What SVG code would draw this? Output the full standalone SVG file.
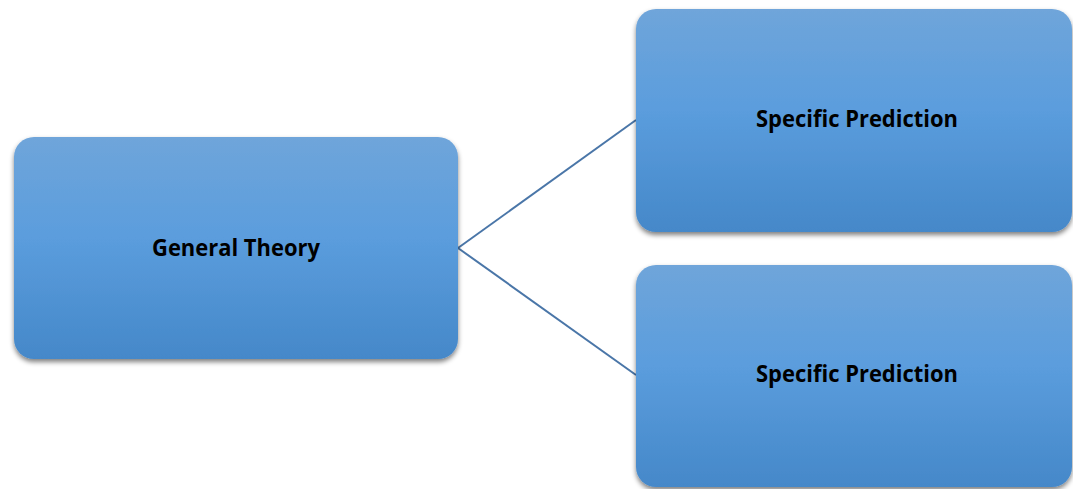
<svg xmlns="http://www.w3.org/2000/svg" width="1073" height="489" viewBox="0 0 1073 489">
<style>
.box{fill:url(#g);filter:url(#sh)}
.lbl{font-family:"Open Sans","Liberation Sans",sans-serif;font-weight:bold;font-size:22.5px;fill:#000;text-anchor:middle}
.con{stroke:#4a76a8;stroke-width:2;fill:none}
</style>
<defs>
<linearGradient id="g" x1="0" y1="0" x2="0" y2="1">
<stop offset="0" stop-color="#6fa5da"/>
<stop offset="0.45" stop-color="#5b9ddd"/>
<stop offset="1" stop-color="#4588c9"/>
</linearGradient>
<filter id="sh" x="-10%" y="-10%" width="120%" height="125%">
<feGaussianBlur in="SourceAlpha" stdDeviation="2.5"/>
<feOffset dx="0" dy="3" result="b"/>
<feComponentTransfer><feFuncA type="linear" slope="0.5"/></feComponentTransfer>
<feMerge><feMergeNode/><feMergeNode in="SourceGraphic"/></feMerge>
</filter>
</defs>
<rect width="1073" height="489" fill="#fff"/>
<g id="connectors">
<line class="con" x1="458" y1="248" x2="636" y2="120"/>
<line class="con" x1="458" y1="248" x2="636" y2="375"/>
</g>
<g id="general-theory">
<rect class="box" x="14" y="137" width="444" height="222" rx="20"/>
<text class="lbl" x="236" y="256" textLength="168" lengthAdjust="spacingAndGlyphs">General Theory</text>
</g>
<g id="prediction-1">
<rect class="box" x="636" y="9" width="436" height="223" rx="20"/>
<text class="lbl" x="857" y="127" textLength="202" lengthAdjust="spacingAndGlyphs">Specific Prediction</text>
</g>
<g id="prediction-2">
<rect class="box" x="636" y="265" width="436" height="222" rx="20"/>
<text class="lbl" x="857" y="382" textLength="202" lengthAdjust="spacingAndGlyphs">Specific Prediction</text>
</g>
</svg>
